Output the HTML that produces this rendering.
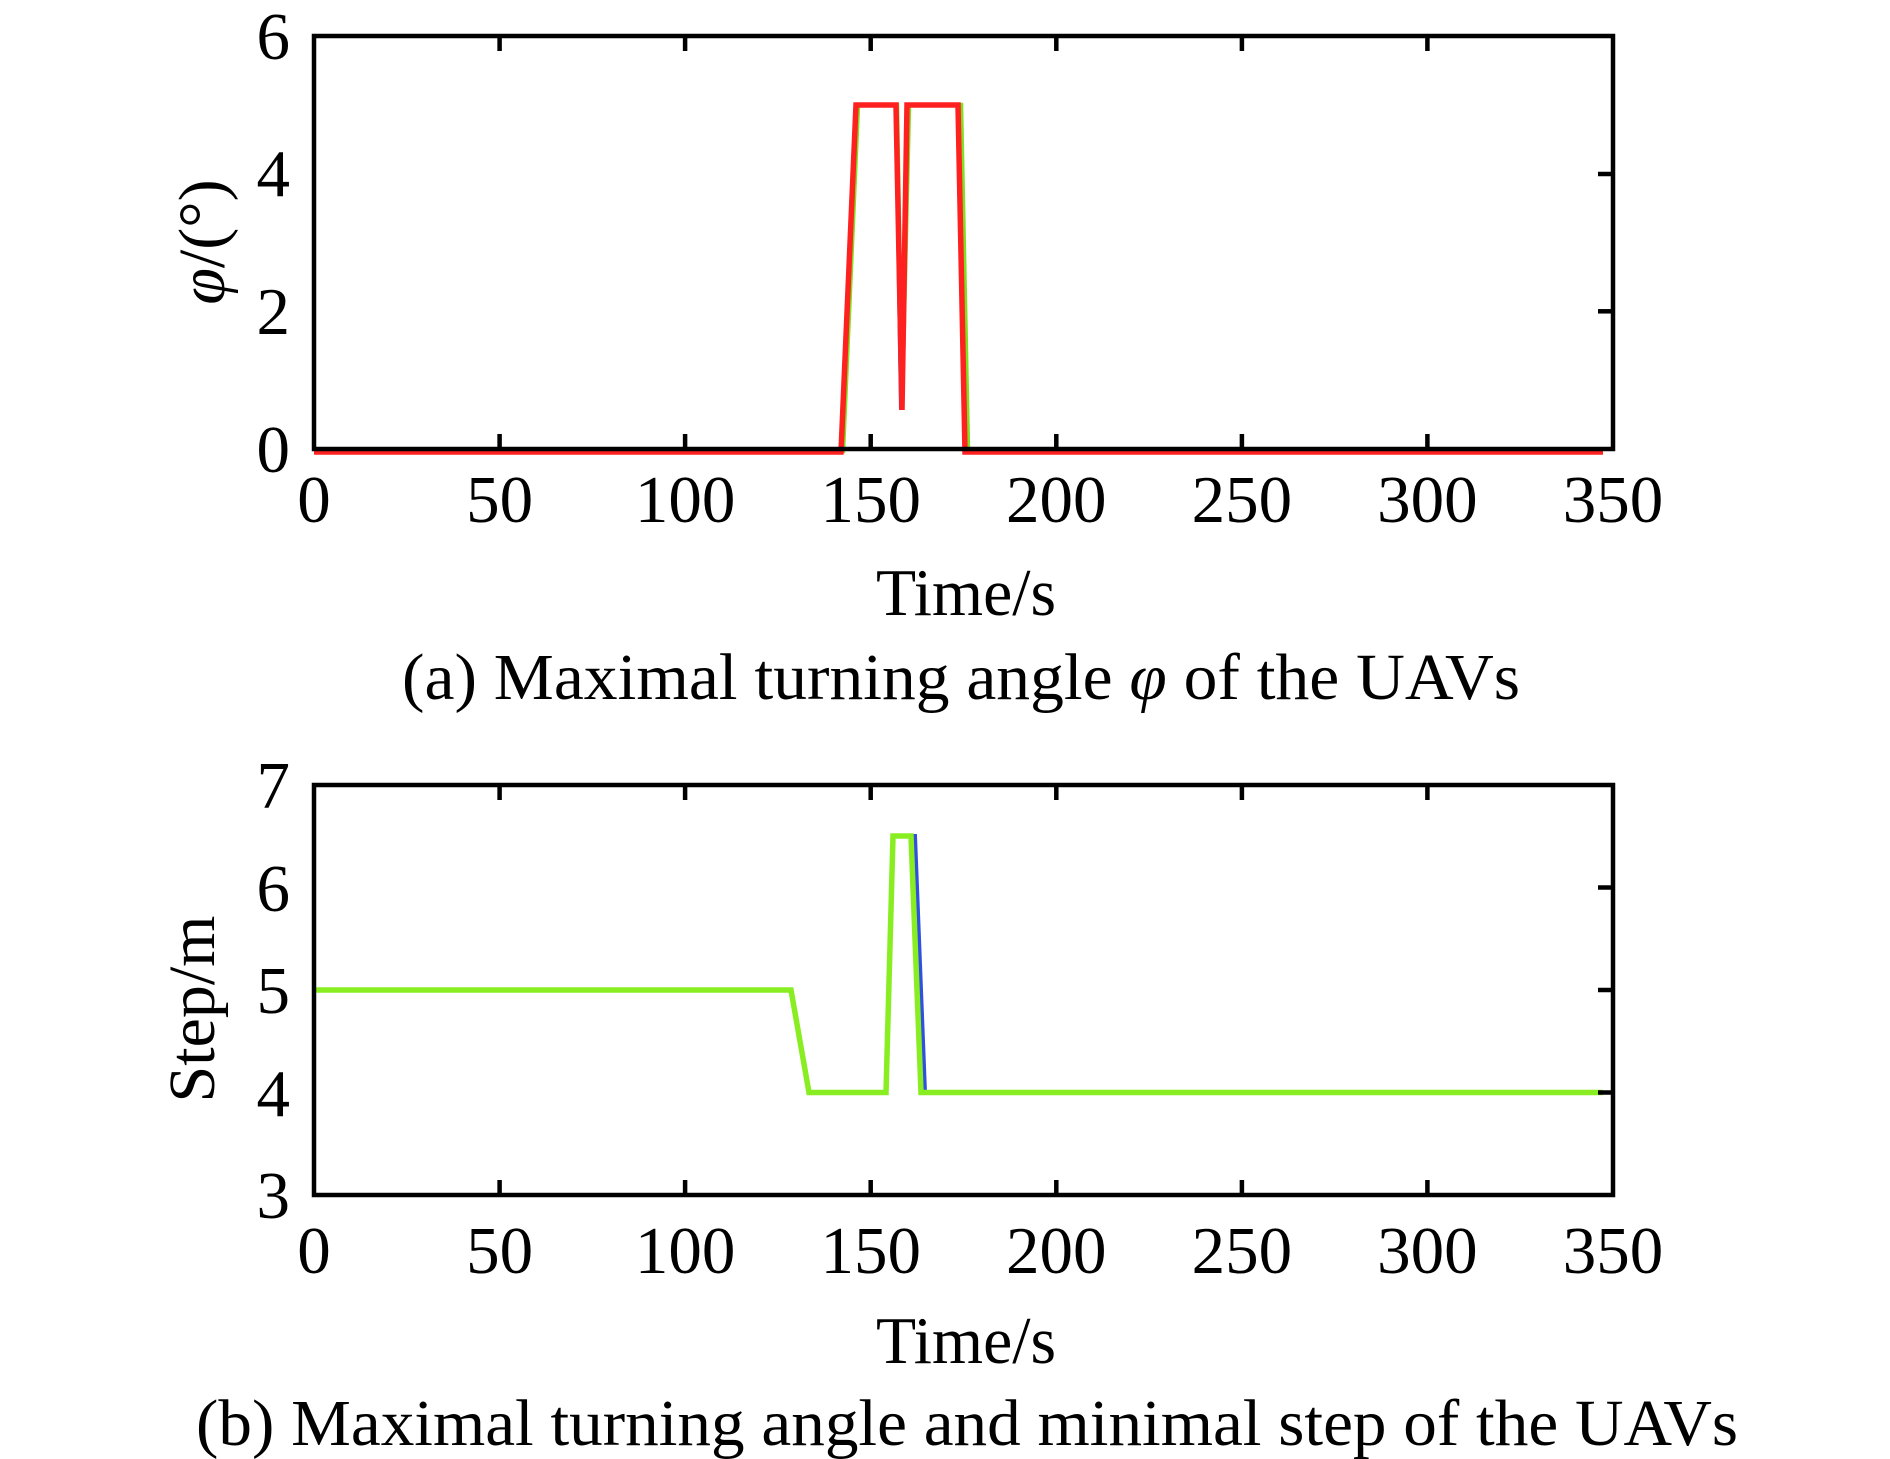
<!DOCTYPE html>
<html><head><meta charset="utf-8"><style>
html,body{margin:0;padding:0;background:#fff;}
svg{display:block;}
text{font-family:"Liberation Serif",serif;fill:#000;}
</style></head><body>
<svg width="1890" height="1459" viewBox="0 0 1890 1459" xmlns="http://www.w3.org/2000/svg">
<!-- Plot A -->
<g>
<polyline fill="none" stroke="#3050e0" stroke-width="4" points="314,451 841,451 856,105 896,105 901,410 907,105 958,105 965,451 1603,451"/>
<polyline fill="none" stroke="#80e020" stroke-width="4.5" points="314,451 843,451 858,105 897,105 902,405 909,105 961,105 968,451 1603,451"/>
<polyline fill="none" stroke="#ff2020" stroke-width="5.5" points="314,452 841,452 856,105 896,105 902,410 907,105 958,105 965,452 1603,452"/>
<g stroke="#000" stroke-width="4.5">
<line x1="499.6" y1="36" x2="499.6" y2="51"/><line x1="685.1" y1="36" x2="685.1" y2="51"/><line x1="870.7" y1="36" x2="870.7" y2="51"/><line x1="1056.3" y1="36" x2="1056.3" y2="51"/><line x1="1241.9" y1="36" x2="1241.9" y2="51"/><line x1="1427.4" y1="36" x2="1427.4" y2="51"/>
<line x1="499.6" y1="449" x2="499.6" y2="434"/><line x1="685.1" y1="449" x2="685.1" y2="434"/><line x1="870.7" y1="449" x2="870.7" y2="434"/><line x1="1056.3" y1="449" x2="1056.3" y2="434"/><line x1="1241.9" y1="449" x2="1241.9" y2="434"/><line x1="1427.4" y1="449" x2="1427.4" y2="434"/>
<line x1="1613" y1="174" x2="1598" y2="174"/><line x1="1613" y1="311.3" x2="1598" y2="311.3"/>
</g>
<rect x="314" y="36" width="1299" height="413" fill="none" stroke="#000" stroke-width="4.5"/>
<g font-size="67" text-anchor="end">
<text x="290" y="59">6</text><text x="290" y="196">4</text><text x="290" y="334">2</text><text x="290" y="472">0</text>
</g>
<g font-size="67" text-anchor="middle">
<text x="314" y="522">0</text><text x="499.6" y="522">50</text><text x="685.1" y="522">100</text><text x="870.7" y="522">150</text><text x="1056.3" y="522">200</text><text x="1241.9" y="522">250</text><text x="1427.4" y="522">300</text><text x="1613" y="522">350</text>
</g>
<text x="966" y="615" font-size="67" text-anchor="middle" textLength="180" lengthAdjust="spacingAndGlyphs">Time/s</text>
<text transform="translate(224,242) rotate(-90)" font-size="66" text-anchor="middle"><tspan font-style="italic">φ</tspan>/(°)</text>
<text x="961" y="699" font-size="66" text-anchor="middle" textLength="1118" lengthAdjust="spacingAndGlyphs">(a) Maximal turning angle <tspan font-style="italic">φ</tspan> of the UAVs</text>
</g>
<!-- Plot B -->
<g>
<polyline fill="none" stroke="#3050e0" stroke-width="4" points="314,990 791,990 809,1092.5 886,1092.5 893,836 915,836 925,1092.5 1603,1092.5"/>
<polyline fill="none" stroke="#88ee22" stroke-width="5.5" points="314,990 791,990 809,1092.5 886,1092.5 893,836 911,836 921,1092.5 1603,1092.5"/>
<g stroke="#000" stroke-width="4.5">
<line x1="499.6" y1="785" x2="499.6" y2="800"/><line x1="685.1" y1="785" x2="685.1" y2="800"/><line x1="870.7" y1="785" x2="870.7" y2="800"/><line x1="1056.3" y1="785" x2="1056.3" y2="800"/><line x1="1241.9" y1="785" x2="1241.9" y2="800"/><line x1="1427.4" y1="785" x2="1427.4" y2="800"/>
<line x1="499.6" y1="1195" x2="499.6" y2="1180"/><line x1="685.1" y1="1195" x2="685.1" y2="1180"/><line x1="870.7" y1="1195" x2="870.7" y2="1180"/><line x1="1056.3" y1="1195" x2="1056.3" y2="1180"/><line x1="1241.9" y1="1195" x2="1241.9" y2="1180"/><line x1="1427.4" y1="1195" x2="1427.4" y2="1180"/>
<line x1="1613" y1="887.5" x2="1598" y2="887.5"/><line x1="1613" y1="990" x2="1598" y2="990"/><line x1="1613" y1="1092.5" x2="1598" y2="1092.5"/>
</g>
<rect x="314" y="785" width="1299" height="410" fill="none" stroke="#000" stroke-width="4.5"/>
<g font-size="67" text-anchor="end">
<text x="290" y="808">7</text><text x="290" y="911">6</text><text x="290" y="1013">5</text><text x="290" y="1116">4</text><text x="290" y="1218">3</text>
</g>
<g font-size="67" text-anchor="middle">
<text x="314" y="1273">0</text><text x="499.6" y="1273">50</text><text x="685.1" y="1273">100</text><text x="870.7" y="1273">150</text><text x="1056.3" y="1273">200</text><text x="1241.9" y="1273">250</text><text x="1427.4" y="1273">300</text><text x="1613" y="1273">350</text>
</g>
<text x="966" y="1363" font-size="67" text-anchor="middle" textLength="180" lengthAdjust="spacingAndGlyphs">Time/s</text>
<text transform="translate(214,1009) rotate(-90)" font-size="66" text-anchor="middle">Step/m</text>
<text x="967" y="1445" font-size="66" text-anchor="middle" textLength="1542" lengthAdjust="spacingAndGlyphs">(b) Maximal turning angle and minimal step of the UAVs</text>
</g>
</svg>
</body></html>
